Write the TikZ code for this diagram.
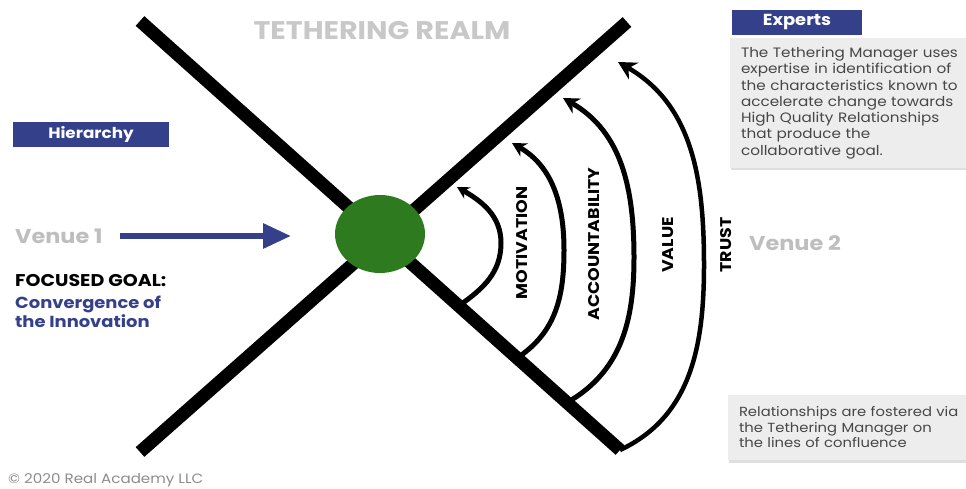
\documentclass[tikz,border=0pt]{standalone}
\usepackage{fontspec}
\setmainfont{Poppins}[FakeStretch=1.12]
\usetikzlibrary{positioning,arrows.meta,shadows,shapes.geometric}
\definecolor{cmarino}{HTML}{34418A}
\definecolor{cgrisclaro}{HTML}{BEBEBE}
\definecolor{ccaja}{HTML}{EDEDED}
\definecolor{ctexto}{HTML}{474747}
\definecolor{cverde}{HTML}{2E7A1E}
\tikzset{
  etiqueta/.style={rectangle, fill=cmarino, text=white, inner sep=0pt,
    font=\fontsize{15}{17}\selectfont\bfseries, minimum height=25pt},
  nota/.style={rectangle, fill=ccaja, text=ctexto, align=left, inner xsep=11pt,
    inner ysep=0pt, drop shadow={shadow xshift=1pt, shadow yshift=-2.5pt, opacity=.25}},
  brazo/.style={line width=13pt},
  lazo/.style={line width=5pt},
  venue/.style={text=cgrisclaro, font=\fontsize{20}{22}\selectfont\bfseries, inner sep=0pt},
  eje/.style={font=\fontsize{15.5}{17}\selectfont\bfseries, rotate=90, inner sep=0pt},
  meta/.style={font=\fontsize{16}{18}\selectfont\bfseries, inner sep=0pt, anchor=base west},
}

\begin{document}
\begin{tikzpicture}[x=1pt, y=1pt]
  \useasboundingbox (0,0) rectangle (966,-489);
  % titulo y etiquetas
  \node[text=cgrisclaro!85!white, font=\fontsize{25.5}{27}\selectfont\bfseries, anchor=base]
    (reino) at (382,-40) {TETHERING REALM};
  \node[etiqueta, minimum width=156pt] (jer) at (91,-134.5) {Hierarchy};
  \node[etiqueta, minimum width=130pt, font=\fontsize{16}{18}\selectfont\bfseries]
    (exp) at (797,-22.5) {Experts};
  \node[nota, text width=228pt, minimum height=130pt, font=\fontsize{13.6}{16.3}\selectfont]
    (expnota) at (855,-103) {The Tethering Manager uses\\expertise in identification of\\the characteristics known to\\accelerate change towards\\High Quality Relationships\\that produce the\\collaborative goal.};
  \node[nota, text width=228pt, minimum height=65pt, font=\fontsize{13.2}{15.5}\selectfont]
    (relnota) at (853,-427.5) {Relationships are fostered via\\the Tethering Manager on\\the lines of confluence};
  \node[text=black!45, font=\fontsize{13.5}{15}\selectfont, anchor=base west, inner sep=0pt]
    (copy) at (8,-483) {© 2020 Real Academy LLC};
  % lado izquierdo
  \node[venue, anchor=base west] (v1) at (15,-243) {Venue 1};
  \coordinate (punta) at (291,-236);
  \draw[cmarino, line width=6pt, -{Triangle[length=28pt, width=24pt]}]
    ([xshift=17pt]v1.east |- punta) -- (punta);
  \node[meta, font=\fontsize{17}{19}\selectfont\bfseries] (foco) at (15,-286) {FOCUSED GOAL:};
  \node[meta, text=cmarino] (conv) at (15,-308) {Convergence of};
  \node[meta, text=cmarino] (innov) at (15,-327) {the Innovation};
  \node[venue, anchor=base] (v2) at (795,-250) {Venue 2};
  % brazos de la X
  \coordinate (ai) at (140,-21);
  \coordinate (ad) at (620,-450);
  \coordinate (bi) at (140,-452);
  \coordinate (bd) at (627,-22);
  \draw[brazo] (ai) -- (ad);
  \draw[brazo] (bi) -- (bd);
  \node[ellipse, fill=cverde, minimum width=90pt, minimum height=78pt, inner sep=0pt]
    (nucleo) at (380,-234) {};
  % arcos
  \coordinate (m0) at (460,-305); \coordinate (m1) at (501,-243); \coordinate (m2) at (457,-187);
  \coordinate (a0) at (520,-356); \coordinate (a1) at (564,-250); \coordinate (a2) at (512,-143);
  \coordinate (w0) at (568,-402); \coordinate (w1) at (634,-258); \coordinate (w2) at (563,-98);
  \coordinate (t1) at (704,-265); \coordinate (t2) at (618,-62);
  \draw[lazo, -{Stealth[length=12pt, width=13pt]}]
    (m0) to[out=35, in=-90] (m1) to[out=90, in=-30] (m2);
  \draw[lazo, -{Stealth[length=14pt, width=15pt]}]
    (a0) to[out=35, in=-90] (a1) to[out=90, in=-30] (a2);
  \draw[lazo, -{Stealth[length=16pt, width=17pt]}]
    (w0) to[out=30, in=-90] (w1) to[out=90, in=-30] (w2);
  \draw[lazo, line width=4.5pt, -{Stealth[length=18pt, width=19pt]}]
    (ad) to[out=25, in=-90] (t1) to[out=90, in=-30] (t2);
  \node[eje] (mot) at (522,-243) {MOTIVATION};
  \node[eje] (acc) at (594,-244) {ACCOUNTABILITY};
  \node[eje] (val) at (668,-245) {VALUE};
  \node[eje] (tru) at (726,-245) {TRUST};
\end{tikzpicture}
\end{document}
